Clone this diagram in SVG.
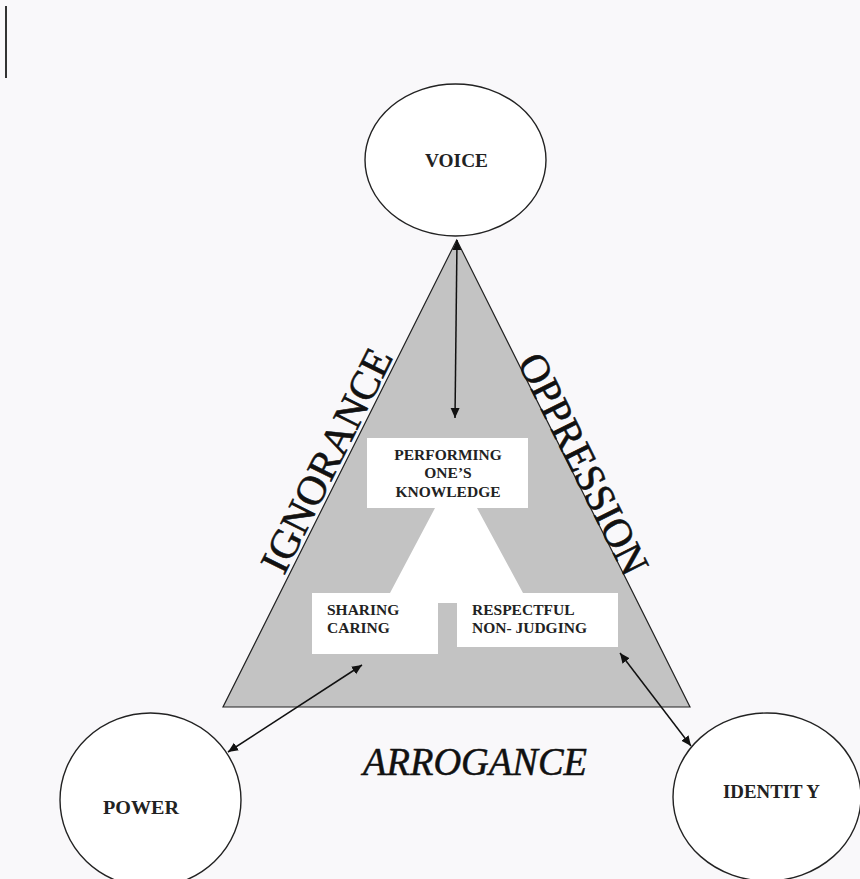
<svg xmlns="http://www.w3.org/2000/svg" width="860" height="879" viewBox="0 0 860 879">
<style>
.node{fill:#ffffff;stroke:#222222;stroke-width:1.4}
.lbl{font-family:"Liberation Serif","Times New Roman",serif;font-weight:bold;fill:#222222}
.box{font-family:"Liberation Serif","Times New Roman",serif;font-weight:bold;font-size:15.5px;fill:#222222}
.side{font-family:"Liberation Serif","Times New Roman",serif;font-size:41px;fill:#111111;stroke:#111111;stroke-width:0.6}
.conn{stroke:#111111;stroke-width:1.5;fill:none;marker-start:url(#ah);marker-end:url(#ah)}
</style>
<defs>
<marker id="ah" viewBox="0 0 10 10" refX="10" refY="5" markerWidth="10" markerHeight="10" markerUnits="userSpaceOnUse" orient="auto-start-reverse">
<path d="M0,0.5 L10,5 L0,9.5 Z" fill="#111111"/>
</marker>
</defs>
<rect x="0" y="0" width="860" height="879" fill="#f9f8fa"/>
<line x1="6" y1="6" x2="6" y2="78" stroke="#333333" stroke-width="2"/>
<g id="triangle">
<polygon points="456.7,240 223,707 690,707" fill="#c3c3c3" stroke="#222222" stroke-width="1.2"/>
<polygon points="367,438 528,438 528,508 477,508 523,593 618,593 618,647 457,647 457,603 438,603 438,654 312,654 312,593 390,593 435,508 367,508" fill="#ffffff"/>
<text class="side" transform="translate(284,576) rotate(-63.4)" textLength="245" lengthAdjust="spacingAndGlyphs">IGNORANCE</text>
<text class="side" transform="translate(517,362) rotate(63.4)" textLength="242" lengthAdjust="spacingAndGlyphs">OPPRESSION</text>
<text x="475" y="775" text-anchor="middle" font-family="'Liberation Serif','Times New Roman',serif" font-style="italic" font-size="39" fill="#111111" stroke="#111111" stroke-width="0.5" textLength="224" lengthAdjust="spacingAndGlyphs">ARROGANCE</text>
</g>
<g id="performing">
<text class="box" text-anchor="middle"><tspan x="448" y="460">PERFORMING</tspan><tspan x="448" y="478">ONE’S</tspan><tspan x="448" y="497">KNOWLEDGE</tspan></text>
</g>
<g id="sharing">
<text class="box"><tspan x="327" y="615">SHARING</tspan><tspan x="327" y="633">CARING</tspan></text>
</g>
<g id="respectful">
<text class="box"><tspan x="472" y="615">RESPECTFUL</tspan><tspan x="472" y="633">NON- JUDGING</tspan></text>
</g>
<g id="voice">
<ellipse class="node" cx="455.5" cy="160" rx="90.5" ry="76"/>
<text class="lbl" x="456.5" y="167" font-size="19" text-anchor="middle" textLength="63" lengthAdjust="spacingAndGlyphs">VOICE</text>
</g>
<g id="power">
<ellipse class="node" cx="150.5" cy="800" rx="90.5" ry="87"/>
<text class="lbl" x="141" y="814" font-size="18.5" text-anchor="middle" textLength="76" lengthAdjust="spacingAndGlyphs">POWER</text>
</g>
<g id="identity">
<ellipse class="node" cx="767" cy="797" rx="94" ry="84"/>
<text class="lbl" x="771.5" y="798" font-size="18.5" text-anchor="middle" textLength="97" lengthAdjust="spacingAndGlyphs">IDENTIT Y</text>
</g>
<g id="connectors">
<line class="conn" x1="457" y1="240" x2="455" y2="418"/>
<line class="conn" x1="362" y1="665" x2="228" y2="752"/>
<line class="conn" x1="620" y1="653" x2="691" y2="746"/>
</g>
</svg>
